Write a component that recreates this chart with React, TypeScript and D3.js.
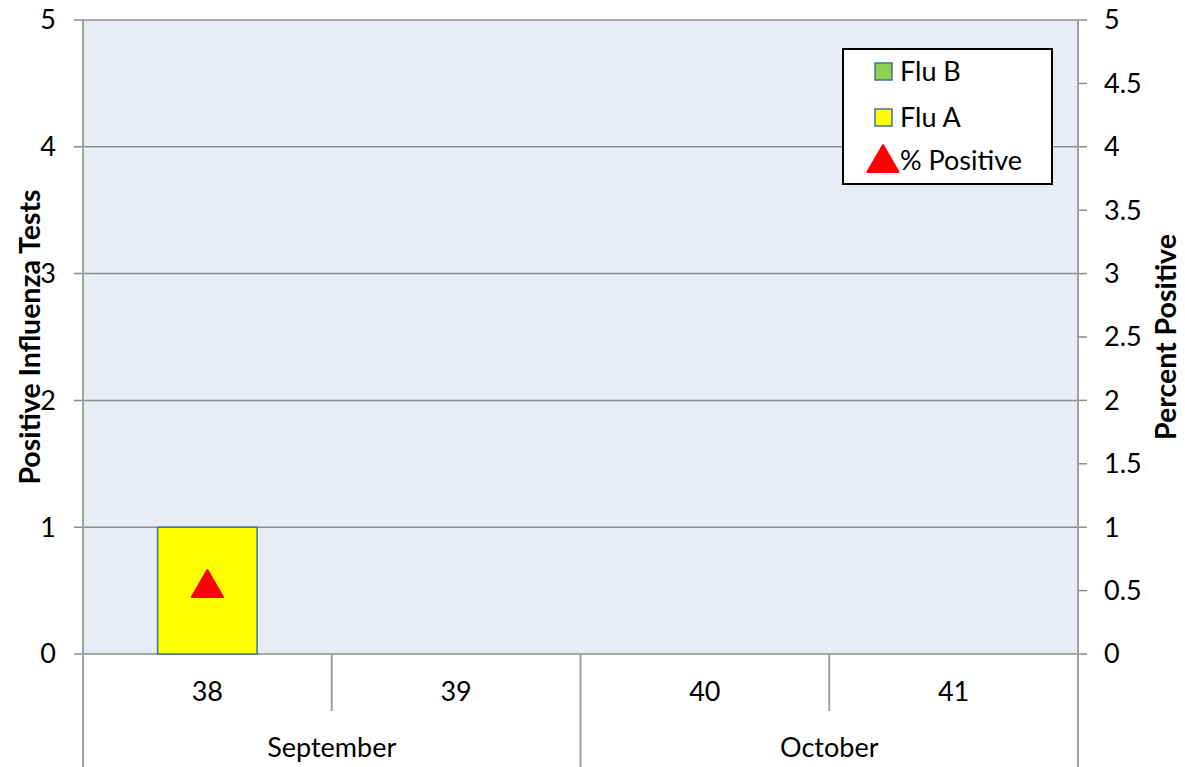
import * as d3 from 'd3'

// chart data
const weeks = ['38', '39', '40', '41']
const months = [
  { name: 'September', span: 2 },
  { name: 'October', span: 2 },
]
const fluA = [1, 0, 0, 0]
const fluB = [0, 0, 0, 0]
const pctPositive: (number | null)[] = [0.52, null, null, null]
const leftTicks = [0, 1, 2, 3, 4, 5]
const rightTicks = [0, 0.5, 1, 1.5, 2, 2.5, 3, 3.5, 4, 4.5, 5]

const W = 1185
const H = 767
const m = { top: 20, right: 107, bottom: 113, left: 83 }
const FONT = 'Lato, "Open Sans", sans-serif'
const FS = 27

export default function App() {
  const x0 = m.left
  const x1 = W - m.right
  const yTop = m.top
  const yBot = H - m.bottom

  const x = d3.scaleBand<string>().domain(weeks).range([x0, x1]).paddingInner(0).paddingOuter(0)
  const yL = d3.scaleLinear().domain([0, 5]).range([yBot, yTop])
  const yR = d3.scaleLinear().domain([0, 5]).range([yBot, yTop])
  const bw = x.bandwidth() * 0.4
  const tri = d3.symbol().type(d3.symbolTriangle).size(420)

  const gridColor = '#8c8c8c'
  const axisColor = '#a0a0a0'

  // month boundaries
  let acc = 0
  const monthPos = months.map(mo => {
    const start = x(weeks[acc])!
    acc += mo.span
    const end = acc < weeks.length ? x(weeks[acc])! : x1
    return { ...mo, start, end }
  })

  return (
    <svg width={W} height={H} style={{ position: 'absolute', left: 0, top: 0, fontFamily: FONT }}>
      <rect x={0} y={0} width={W} height={H} fill="#fff" />
      <rect x={x0} y={yTop} width={x1 - x0} height={yBot - yTop} fill="#e8ecf4" />

      {/* gridlines + left ticks */}
      {leftTicks.map(t => (
        <g key={'l' + t}>
          <line x1={x0 - 9} x2={x1} y1={yL(t)} y2={yL(t)} stroke={gridColor} strokeWidth={1.5} />
          <text x={56} y={yL(t)} dy="0.35em" textAnchor="end" fontSize={FS} fill="#000">{t}</text>
        </g>
      ))}

      {/* right axis ticks */}
      {rightTicks.map(t => (
        <g key={'r' + t}>
          <line x1={x1} x2={x1 + 9} y1={yR(t)} y2={yR(t)} stroke={gridColor} strokeWidth={1.5} />
          <text x={1104} y={yR(t)} dy="0.35em" textAnchor="start" fontSize={FS} fill="#000">{t}</text>
        </g>
      ))}

      {/* bars */}
      {weeks.map((w, i) => {
        const cx = x(w)! + x.bandwidth() / 2
        return (
          <g key={'b' + w}>
            {fluA[i] > 0 && (
              <rect x={cx - bw / 2} y={yL(fluA[i])} width={bw} height={yL(0) - yL(fluA[i])}
                fill="#ffff00" stroke="#41719c" strokeWidth={1.5} />
            )}
            {fluB[i] > 0 && (
              <rect x={cx - bw / 2} y={yL(fluA[i] + fluB[i])} width={bw} height={yL(fluA[i]) - yL(fluA[i] + fluB[i])}
                fill="#92d050" stroke="#41719c" strokeWidth={1.5} />
            )}
          </g>
        )
      })}

      {/* % positive markers */}
      {weeks.map((w, i) => pctPositive[i] == null ? null : (
        <path key={'p' + w} d={tri()!} fill="#ff0000" stroke="#ff0000" strokeWidth={2} strokeLinejoin="round"
          transform={`translate(${x(w)! + x.bandwidth() / 2},${yR(pctPositive[i]!)})`} />
      ))}

      {/* axes lines */}
      <line x1={x0} x2={x0} y1={yTop} y2={H} stroke={axisColor} strokeWidth={2} />
      <line x1={x1} x2={x1} y1={yTop} y2={H} stroke={axisColor} strokeWidth={2} />

      {/* category separators */}
      {weeks.slice(1).map(w => {
        const isMonth = monthPos.some(mp => Math.abs(mp.start - x(w)!) < 0.5)
        return (
          <line key={'s' + w} x1={x(w)!} x2={x(w)!} y1={yBot} y2={isMonth ? H : 711}
            stroke={axisColor} strokeWidth={2} />
        )
      })}

      {/* week labels */}
      {weeks.map(w => (
        <text key={'wl' + w} x={x(w)! + x.bandwidth() / 2} y={692} dy="0.35em" textAnchor="middle" fontSize={FS}>{w}</text>
      ))}
      {/* month labels */}
      {monthPos.map(mp => (
        <text key={'m' + mp.name} x={(mp.start + mp.end) / 2} y={748} dy="0.35em" textAnchor="middle" fontSize={FS}>{mp.name}</text>
      ))}

      {/* axis titles */}
      <text transform={`translate(30,${(yTop + yBot) / 2}) rotate(-90)`} textAnchor="middle" dy="0.35em"
        fontSize={28.5} fontWeight="bold">Positive Influenza Tests</text>
      <text transform={`translate(1166,${(yTop + yBot) / 2}) rotate(-90)`} textAnchor="middle" dy="0.35em"
        fontSize={28.5} fontWeight="bold">Percent Positive</text>

      {/* legend */}
      <g>
        <rect x={843} y={49} width={209} height={135} fill="#fff" stroke="#000" strokeWidth={2} />
        <rect x={875} y={63} width={17} height={17} fill="#92d050" stroke="#41719c" strokeWidth={1.5} />
        <text x={900} y={72} dy="0.35em" fontSize={FS}>Flu B</text>
        <rect x={875} y={109} width={17} height={17} fill="#ffff00" stroke="#41719c" strokeWidth={1.5} />
        <text x={900} y={118} dy="0.35em" fontSize={FS}>Flu A</text>
        <path d={tri()!} fill="#ff0000" stroke="#ff0000" strokeWidth={2} strokeLinejoin="round"
          transform="translate(883,163)" />
        <text x={900} y={161} dy="0.35em" fontSize={FS}>% Positive</text>
      </g>
    </svg>
  )
}
